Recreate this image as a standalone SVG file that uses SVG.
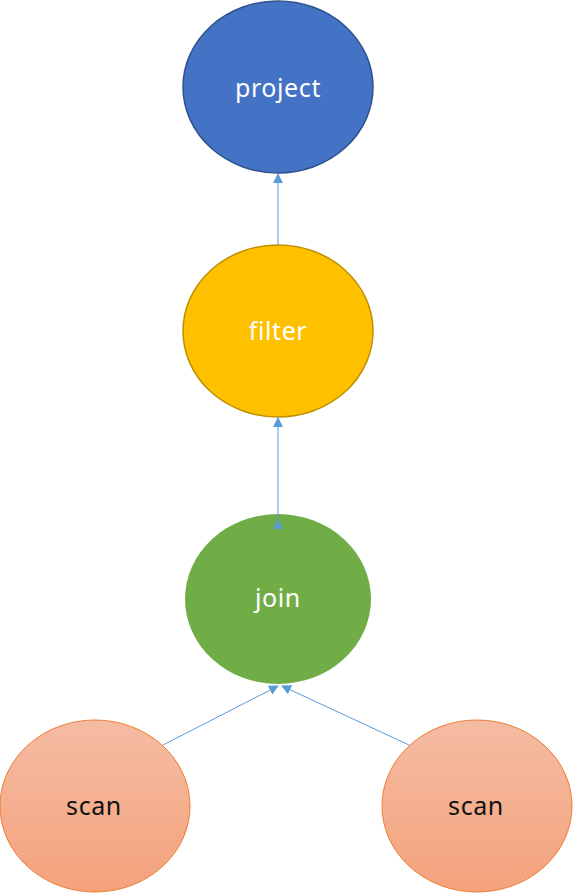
<svg xmlns="http://www.w3.org/2000/svg" width="573" height="893" viewBox="0 0 573 893">
<style>
.lbl{font-family:"Noto Sans","Noto Sans CJK SC",sans-serif;font-size:25px;text-anchor:middle;letter-spacing:0.6px}
.w{fill:#ffffff}
.d{fill:#111111}
.conn{stroke:#5B9BD5;stroke-width:1;fill:none}
</style>
<defs>
<linearGradient id="scanGrad" x1="0" y1="0" x2="0" y2="1">
<stop offset="0" stop-color="#F5BCA3"/>
<stop offset="1" stop-color="#F4A27C"/>
</linearGradient>
<marker id="arr" markerWidth="10" markerHeight="10" refX="9" refY="5" orient="auto" markerUnits="userSpaceOnUse">
<path d="M0,0 L10,5 L0,10 z" fill="#5B9BD5"/>
</marker>
</defs>
<g id="project">
<ellipse cx="278" cy="87" rx="95" ry="86" fill="#4472C4" stroke="#2F528F" stroke-width="1.5"/>
<text class="lbl w" x="278" y="97">project</text>
</g>
<g id="filter">
<ellipse cx="278" cy="331" rx="95" ry="86" fill="#FFC000" stroke="#BF9000" stroke-width="1.5"/>
<text class="lbl w" x="278" y="340">filter</text>
</g>
<g id="join">
<ellipse cx="278" cy="599" rx="93" ry="85" fill="#70AD47"/>
<text class="lbl w" x="278" y="607">join</text>
</g>
<g id="scan1">
<ellipse cx="95" cy="806" rx="95" ry="86" fill="url(#scanGrad)" stroke="#ED7D31" stroke-width="1"/>
<text class="lbl d" x="94" y="815">scan</text>
</g>
<g id="scan2">
<ellipse cx="477" cy="806" rx="95" ry="86" fill="url(#scanGrad)" stroke="#ED7D31" stroke-width="1"/>
<text class="lbl d" x="476" y="815">scan</text>
</g>
<g id="connectors">
<line class="conn" x1="278" y1="245" x2="278" y2="174" marker-end="url(#arr)"/>
<line class="conn" x1="278" y1="520" x2="278" y2="418" marker-start="url(#arr)" marker-end="url(#arr)"/>
<line class="conn" x1="163" y1="745" x2="278" y2="686" marker-end="url(#arr)"/>
<line class="conn" x1="409" y1="745" x2="282" y2="686" marker-end="url(#arr)"/>
</g>
</svg>
